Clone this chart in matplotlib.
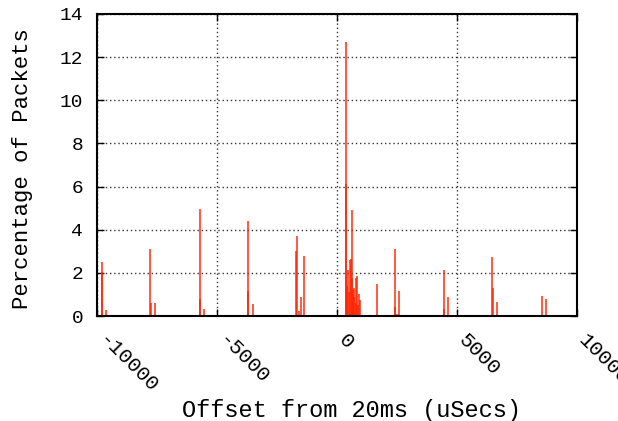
import matplotlib
matplotlib.use("Agg")
import matplotlib.pyplot as plt
import matplotlib.transforms as mtransforms

# offset from 20ms (uSecs) and percentage of packets at that offset
offsets = [-9804, -9790, -9625,
           -7779, -7770, -7596,
           -5721, -5710, -5554,
           -3696, -3705, -3513,
           -1700, -1654, -1571, -1488, -1388, -1200,
           363, 370, 420, 471, 490, 542, 571, 600, 638, 650, 700, 721,
           779, 800, 846, 880, 904, 946,
           1667,
           2404, 2410, 2500, 2596,
           4446, 4455, 4638,
           6471, 6480, 6654,
           8513, 8696]
percent = [2.5, 2.05, 0.28,
           3.12, 0.6, 0.6,
           4.95, 0.8, 0.33,
           4.4, 1.16, 0.57,
           3.0, 3.71, 0.23, 0.87, 2.78, 0.05,
           12.72, 6.12, 1.4, 2.16, 1.13, 2.6, 2.67, 1.78, 4.94, 1.2, 0.9, 1.31,
           1.75, 0.6, 1.85, 0.5, 1.05, 0.74,
           1.51,
           3.1, 0.43, 0.1, 1.16,
           2.16, 0.34, 0.88,
           2.72, 1.31, 0.65,
           0.93, 0.79]

xticks = [-10000, -5000, 0, 5000, 10000]
yticks = [0, 2, 4, 6, 8, 10, 12, 14]

plt.rcParams['font.family'] = ['Liberation Mono', 'DejaVu Sans Mono']
plt.rcParams['axes.unicode_minus'] = False

fig = plt.figure(figsize=(6.18, 4.21), dpi=100)
ax = fig.add_axes([0.157, 0.249, 0.777, 0.718])

ax.vlines(offsets, 0, percent, color='#ff2200', linewidth=1.4, alpha=0.75)

ax.set_xlim(-10000, 10000)
ax.set_ylim(0, 14)
ax.set_xticks(xticks)
ax.set_yticks(yticks)
ax.set_xticklabels([str(t) for t in xticks], rotation=-45, ha='left',
                   va='center', rotation_mode='anchor', fontsize=15)
ax.set_yticklabels([str(t) for t in yticks], fontsize=14)
ax.tick_params(direction='in', top=True, right=True, length=5, width=1)
ax.tick_params(axis='x', pad=13)
ax.tick_params(axis='y', pad=10)

# nudge the rotated labels a little down and to the right
shift = mtransforms.ScaledTranslation(3 / 72, -2 / 72, fig.dpi_scale_trans)
for lbl in ax.get_xticklabels():
    lbl.set_transform(lbl.get_transform() + shift)

ax.grid(True, linestyle=(0, (1, 2)), color='#333333', linewidth=1)
for s in ax.spines.values():
    s.set_linewidth(1.5)

ax.set_xlabel("Offset from 20ms (uSecs)", fontsize=17, va='center')
ax.xaxis.set_label_coords(0.529, -0.311)
ax.set_ylabel("Percentage of Packets", fontsize=16, va='center')
ax.yaxis.set_label_coords(-0.156, 0.487)

fig.savefig("out.png", dpi=100)
